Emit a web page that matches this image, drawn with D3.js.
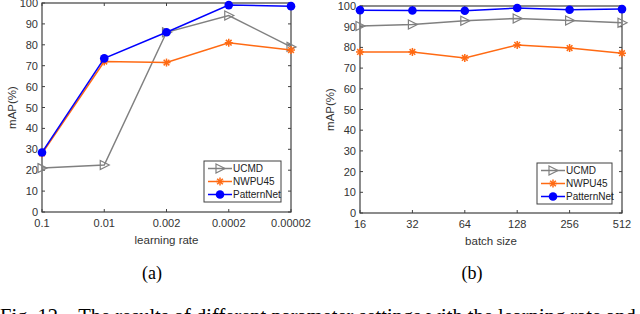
<!DOCTYPE html>
<html>
<head>
<meta charset="utf-8">
<script src="https://cdn.jsdelivr.net/npm/d3@7"></script>
<style>
  body { margin: 0; background: #fff; }
  svg { display: block; }
</style>
</head>
<body>
<script>
let w = 640;
let h = 314;

// data
var lrLabels = ["0.1", "0.01", "0.002", "0.0002", "0.00002"];
var lrUCMD = [21, 22.5, 86, 94, 79];
var lrNWPU = [28, 72, 71.5, 81, 77.5];
var lrPattern = [28.5, 73.5, 86, 99, 98.5];

var bsLabels = ["16", "32", "64", "128", "256", "512"];
var bsUCMD = [90.3, 91.1, 92.9, 94, 93, 91.9];
var bsNWPU = [77.8, 77.8, 74.9, 81.2, 79.7, 77.2];
var bsPattern = [98, 97.8, 97.7, 99, 98.2, 98.5];

var yTicks = [0, 10, 20, 30, 40, 50, 60, 70, 80, 90, 100];
var seriesNames = ["UCMD", "NWPU45", "PatternNet"];
var colors = ["#808080", "#ff6a13", "#0000ff"];

var svg = d3.select("body").append("svg")
    .attr("width", w)
    .attr("height", h);

var axisColor = "#404040";

function drawPanel(opt) {
    var x = d3.scalePoint().domain(opt.labels).range([opt.left, opt.right]).padding(0);
    var y = d3.scaleLinear().domain([0, 100]).range([opt.bottom, opt.top]);
    var g = svg.append("g").attr("font-family", "Liberation Sans, Arial, sans-serif");

    // box
    g.append("rect")
        .attr("x", opt.left).attr("y", opt.top)
        .attr("width", opt.right - opt.left).attr("height", opt.bottom - opt.top)
        .attr("fill", "none").attr("stroke", axisColor).attr("stroke-width", 1.2);

    // ticks inward, all four sides
    yTicks.forEach(t => {
        g.append("line").attr("x1", opt.left).attr("x2", opt.left + 3)
            .attr("y1", y(t)).attr("y2", y(t)).attr("stroke", axisColor);
        g.append("line").attr("x1", opt.right).attr("x2", opt.right - 3)
            .attr("y1", y(t)).attr("y2", y(t)).attr("stroke", axisColor);
        g.append("text").attr("x", opt.left - 4).attr("y", y(t) + 4)
            .attr("text-anchor", "end").attr("font-size", 11).attr("fill", "#333")
            .text(t);
    });
    opt.labels.forEach(l => {
        g.append("line").attr("x1", x(l)).attr("x2", x(l))
            .attr("y1", opt.bottom).attr("y2", opt.bottom - 3).attr("stroke", axisColor);
        g.append("line").attr("x1", x(l)).attr("x2", x(l))
            .attr("y1", opt.top).attr("y2", opt.top + 3).attr("stroke", axisColor);
        g.append("text").attr("x", x(l)).attr("y", opt.bottom + 15)
            .attr("text-anchor", "middle").attr("font-size", 11).attr("fill", "#333")
            .text(l);
    });

    // axis titles
    g.append("text").attr("x", (opt.left + opt.right) / 2).attr("y", opt.bottom + 32)
        .attr("text-anchor", "middle").attr("font-size", 11.5).attr("fill", "#333")
        .text(opt.xTitle);
    g.append("text")
        .attr("transform", `translate(${opt.left - 26},${(opt.top + opt.bottom) / 2}) rotate(-90)`)
        .attr("text-anchor", "middle").attr("font-size", 11.5).attr("fill", "#333")
        .text("mAP(%)");

    var line = d3.line().x((d, i) => x(opt.labels[i])).y(d => y(d));
    opt.series.forEach((s, k) => {
        g.append("path").datum(s).attr("d", line)
            .attr("fill", "none").attr("stroke", colors[k]).attr("stroke-width", 1.5);
        s.forEach((d, i) => marker(g, k, x(opt.labels[i]), y(d)));
    });

    // legend
    var lg = g.append("g");
    lg.append("rect").attr("x", opt.legX).attr("y", opt.legY)
        .attr("width", opt.legW).attr("height", 41)
        .attr("fill", "#fff").attr("stroke", axisColor).attr("stroke-width", 1);
    seriesNames.forEach((n, k) => {
        var ly = opt.legY + 7.5 + k * 13;
        lg.append("line").attr("x1", opt.legX + 4).attr("x2", opt.legX + 28)
            .attr("y1", ly).attr("y2", ly).attr("stroke", colors[k]).attr("stroke-width", 1.5);
        marker(lg, k, opt.legX + 16, ly);
        lg.append("text").attr("x", opt.legX + 29).attr("y", ly + 3.5)
            .attr("font-size", 10).attr("fill", "#222").text(n);
    });
}

function marker(g, k, cx, cy) {
    if (k === 0) {
        g.append("path")
            .attr("d", `M${cx - 4},${cy - 4.5}L${cx + 5},${cy}L${cx - 4},${cy + 4.5}Z`)
            .attr("fill", "none").attr("stroke", colors[0]).attr("stroke-width", 1.2);
    } else if (k === 1) {
        var r = 4;
        var star = g.append("g").attr("stroke", colors[1]).attr("stroke-width", 1.5);
        [0, 45, 90, 135].forEach(a => {
            var rad = a * Math.PI / 180;
            star.append("line")
                .attr("x1", cx - r * Math.cos(rad)).attr("y1", cy - r * Math.sin(rad))
                .attr("x2", cx + r * Math.cos(rad)).attr("y2", cy + r * Math.sin(rad));
        });
    } else {
        g.append("circle").attr("cx", cx).attr("cy", cy).attr("r", 4.3)
            .attr("fill", colors[2]);
    }
}

drawPanel({
    labels: lrLabels, left: 42, right: 291, top: 3, bottom: 212,
    series: [lrUCMD, lrNWPU, lrPattern], xTitle: "learning rate",
    legX: 204, legY: 161, legW: 77
});

drawPanel({
    labels: bsLabels, left: 360, right: 622, top: 6, bottom: 213,
    series: [bsUCMD, bsNWPU, bsPattern], xTitle: "batch size",
    legX: 537, legY: 163, legW: 75
});

// subfigure captions
svg.append("text").attr("x", 152).attr("y", 279).attr("text-anchor", "middle")
    .attr("font-family", "Liberation Serif, Times New Roman, serif").attr("font-size", 18)
    .text("(a)");
svg.append("text").attr("x", 472).attr("y", 279).attr("text-anchor", "middle")
    .attr("font-family", "Liberation Serif, Times New Roman, serif").attr("font-size", 18)
    .text("(b)");

// figure caption, cut off by the bottom edge
svg.append("text").attr("x", 0).attr("y", 323)
    .attr("font-family", "Liberation Serif, Times New Roman, serif").attr("font-size", 20.5)
    .attr("xml:space", "preserve")
    .text("Fig. 12.   The results of different parameter settings with the learning rate and");
</script>
</body>
</html>
